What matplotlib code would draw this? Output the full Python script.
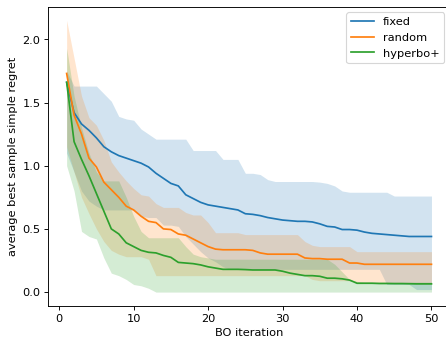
import numpy as np
import matplotlib
matplotlib.use("Agg")
import matplotlib.pyplot as plt

iters = np.arange(1, 51)

# fixed
fixed_mean = [1.66, 1.42, 1.33, 1.28, 1.22, 1.15, 1.11, 1.08, 1.06, 1.04,
              1.02, 0.99, 0.94, 0.90, 0.86, 0.84, 0.77, 0.74, 0.71, 0.69,
              0.68, 0.67, 0.66, 0.65, 0.62, 0.615, 0.605, 0.59, 0.58, 0.57,
              0.565, 0.56, 0.56, 0.555, 0.54, 0.52, 0.515, 0.495, 0.495, 0.49,
              0.475, 0.465, 0.46, 0.455, 0.45, 0.445, 0.44, 0.44, 0.44, 0.44]
fixed_upper = [1.75, 1.63, 1.63, 1.63, 1.63, 1.57, 1.51, 1.39, 1.37, 1.36,
               1.29, 1.25, 1.21, 1.21, 1.21, 1.21, 1.21, 1.12, 1.12, 1.12,
               1.12, 1.05, 1.05, 1.05, 0.94, 0.94, 0.93, 0.89, 0.875, 0.875,
               0.875, 0.875, 0.875, 0.875, 0.87, 0.86, 0.84, 0.80, 0.79, 0.79,
               0.79, 0.79, 0.79, 0.79, 0.76, 0.76, 0.76, 0.76, 0.76, 0.76]
fixed_lower = [1.10, 0.95, 0.80, 0.72, 0.68, 0.65, 0.65, 0.65, 0.65, 0.65,
               0.60, 0.59, 0.59, 0.53, 0.53, 0.52, 0.44, 0.38, 0.32, 0.27,
               0.24, 0.20, 0.18, 0.18, 0.18, 0.18, 0.18, 0.18, 0.18, 0.18,
               0.18, 0.18, 0.18, 0.18, 0.18, 0.18, 0.18, 0.18, 0.18, 0.18,
               0.18, 0.18, 0.18, 0.06, 0.06, 0.06, 0.06, 0.02, 0.02, 0.02]

# random
random_mean = [1.73, 1.40, 1.25, 1.06, 0.99, 0.87, 0.81, 0.75, 0.68, 0.65,
               0.60, 0.56, 0.55, 0.50, 0.495, 0.46, 0.45, 0.42, 0.39, 0.36,
               0.34, 0.335, 0.335, 0.335, 0.335, 0.33, 0.31, 0.30, 0.30, 0.30,
               0.30, 0.30, 0.27, 0.265, 0.265, 0.26, 0.26, 0.26, 0.23, 0.23,
               0.22, 0.22, 0.22, 0.22, 0.22, 0.22, 0.22, 0.22, 0.22, 0.22]
random_upper = [2.15, 1.85, 1.55, 1.38, 1.32, 1.20, 1.03, 0.95, 0.88, 0.82,
                0.77, 0.76, 0.70, 0.67, 0.67, 0.67, 0.63, 0.61, 0.61, 0.55,
                0.47, 0.47, 0.47, 0.47, 0.455, 0.455, 0.455, 0.455, 0.455, 0.455,
                0.455, 0.455, 0.40, 0.37, 0.36, 0.36, 0.36, 0.36, 0.36, 0.32,
                0.32, 0.32, 0.32, 0.32, 0.32, 0.32, 0.32, 0.32, 0.32, 0.32]
random_lower = [1.15, 0.95, 0.75, 0.62, 0.50, 0.40, 0.33, 0.30, 0.28, 0.28,
                0.28, 0.26, 0.13, 0.13, 0.13, 0.13, 0.13, 0.13, 0.13, 0.13,
                0.13, 0.13, 0.13, 0.13, 0.13, 0.13, 0.13, 0.13, 0.13, 0.13,
                0.13, 0.13, 0.13, 0.10, 0.09, 0.09, 0.09, 0.09, 0.09, 0.076,
                0.076, 0.076, 0.076, 0.07, 0.07, 0.07, 0.07, 0.065, 0.065, 0.065]

# hyperbo+
hyper_mean = [1.66, 1.19, 1.05, 0.92, 0.78, 0.64, 0.50, 0.46, 0.39, 0.36,
              0.33, 0.315, 0.31, 0.29, 0.275, 0.235, 0.23, 0.225, 0.215, 0.20,
              0.19, 0.18, 0.18, 0.18, 0.178, 0.175, 0.175, 0.175, 0.175, 0.165,
              0.15, 0.14, 0.13, 0.13, 0.125, 0.11, 0.11, 0.105, 0.095, 0.07,
              0.07, 0.07, 0.068, 0.068, 0.067, 0.067, 0.066, 0.065, 0.065, 0.065]
hyper_upper = [1.93, 1.55, 1.30, 1.10, 0.95, 0.88, 0.88, 0.88, 0.75, 0.60,
               0.48, 0.43, 0.43, 0.43, 0.43, 0.43, 0.36, 0.30, 0.28, 0.27,
               0.26, 0.26, 0.26, 0.26, 0.26, 0.26, 0.26, 0.26, 0.26, 0.26,
               0.26, 0.26, 0.26, 0.26, 0.26, 0.26, 0.22, 0.16, 0.10, 0.085,
               0.08, 0.08, 0.08, 0.08, 0.08, 0.08, 0.08, 0.08, 0.08, 0.08]
hyper_lower = [1.00, 0.80, 0.48, 0.44, 0.42, 0.27, 0.15, 0.13, 0.10, 0.06,
               0.05, 0.03, 0.0, 0.0, 0.0, 0.0, 0.0, 0.0, 0.0, 0.0,
               0.0, 0.0, 0.0, 0.0, 0.0, 0.0, 0.0, 0.0, 0.0, 0.0,
               0.0, 0.0, 0.0, 0.0, 0.0, 0.0, 0.0, 0.0, 0.0, 0.0,
               0.0, 0.0, 0.0, 0.0, 0.0, 0.0, 0.0, 0.0, 0.0, 0.0]

# original was a bigger figure shrunk down, so render at a lower dpi
fig = plt.figure(figsize=(5.45, 4.21), dpi=82)
ax = fig.add_axes([0.1083, 0.1139, 0.898, 0.8658])

series = [("fixed", fixed_mean, fixed_lower, fixed_upper),
          ("random", random_mean, random_lower, random_upper),
          ("hyperbo+", hyper_mean, hyper_lower, hyper_upper)]
for label, m, lo, up in series:
    line, = ax.plot(iters, m, label=label)
    ax.fill_between(iters, lo, up, color=line.get_color(), alpha=0.2, linewidth=0)

ax.set_xlabel("BO iteration")
ax.set_ylabel("average best sample simple regret")
ax.legend(loc="upper right")
fig.savefig("out.png", dpi=82)
